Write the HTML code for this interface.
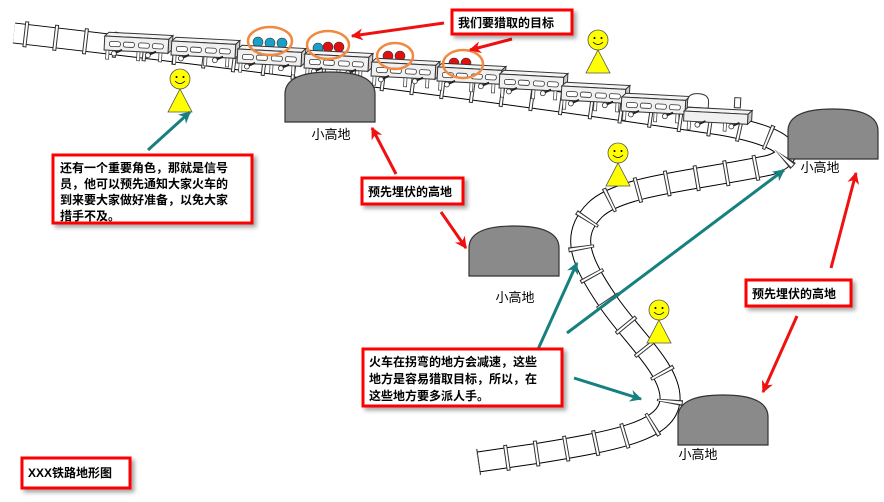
<!DOCTYPE html>
<html><head><meta charset="utf-8"><style>
html,body{margin:0;padding:0;background:#fff;}
svg{display:block;}
.t{font-family:"Liberation Sans","Noto Sans CJK SC",sans-serif;}
.b{font-weight:bold;font-size:12px;fill:#000;}
.h{font-size:13px;fill:#000;}
</style></head><body>
<svg width="884" height="502" viewBox="0 0 884 502" xmlns="http://www.w3.org/2000/svg">
<defs>
<path id="trk" d="M14,33 C250,60 520,95 720,125 C790,137 800,155 770,165 C700,180 620,185 595,210 C570,235 580,260 607,300 C630,335 672,370 670,400 C668,430 620,440 540,453 L478,462"/>
<marker id="rh" viewBox="0 0 10 10" refX="9" refY="5" markerWidth="6" markerHeight="4" orient="auto" markerUnits="strokeWidth"><path d="M0,0 L10,5 L0,10 L3,5 z" fill="#f01010"/></marker>
<marker id="th" viewBox="0 0 10 10" refX="9" refY="5" markerWidth="6" markerHeight="4" orient="auto" markerUnits="strokeWidth"><path d="M0,0 L10,5 L0,10 L3,5 z" fill="#168080"/></marker>
<g id="car">
<path d="M0,4 L4,0 L68,0 L64,4 z" fill="#f4f4f4" stroke="#333" stroke-width="1"/>
<path d="M64,4 L68,0 L68,14 L64,18 z" fill="#ccc" stroke="#333" stroke-width="1"/>
<rect x="0" y="4" width="64" height="14" fill="#f0f0f0" stroke="#333" stroke-width="1"/>
<rect x="5" y="9" width="11" height="5" rx="2" fill="#fff" stroke="#333" stroke-width="0.8"/>
<rect x="19" y="9" width="11" height="5" rx="2" fill="#fff" stroke="#333" stroke-width="0.8"/>
<rect x="34" y="9" width="11" height="5" rx="2" fill="#fff" stroke="#333" stroke-width="0.8"/>
<rect x="48" y="9" width="11" height="5" rx="2" fill="#fff" stroke="#333" stroke-width="0.8"/>
<rect x="2" y="18" width="3" height="9" fill="#fff" stroke="#333" stroke-width="0.7"/>
<rect x="33" y="18" width="3" height="9" fill="#fff" stroke="#333" stroke-width="0.7"/>
<rect x="55" y="18" width="3" height="9" fill="#fff" stroke="#333" stroke-width="0.7"/>
<circle cx="10" cy="21" r="2.5" fill="#fff" stroke="#333" stroke-width="0.8"/>
<circle cx="44" cy="21" r="2.5" fill="#fff" stroke="#333" stroke-width="0.8"/>
<path d="M12,20 L18,17 M46,20 L52,17" stroke="#222" stroke-width="2"/>
</g>
<g id="man">
<circle cx="0" cy="0" r="10" fill="#ffff00" stroke="#555" stroke-width="0.8"/>
<circle cx="-3.5" cy="-2" r="1" fill="#000"/><circle cx="3.5" cy="-2" r="1" fill="#000"/>
<path d="M-5,2 Q0,7 5,2" fill="none" stroke="#000" stroke-width="0.8"/>
<path d="M0,10 L12,33 L-12,33 z" fill="#ffff00" stroke="#555" stroke-width="0.8"/>
</g>
<g id="hill">
<path d="M0,50 L0,22 Q0,0 45,0 Q90,0 90,22 L90,50 z" fill="#8a8a8a" stroke="#333" stroke-width="1.2"/>
</g>
<filter id="sh" x="-10%" y="-10%" width="130%" height="140%"><feDropShadow dx="3" dy="3" stdDeviation="2" flood-color="#000" flood-opacity="0.35"/></filter>
</defs>

<!-- track -->
<use href="#trk" fill="none" stroke="#000" stroke-width="21"/>
<use href="#trk" fill="none" stroke="#fff" stroke-width="19"/>
<use href="#trk" fill="none" stroke="#333" stroke-width="26" stroke-dasharray="4 26" stroke-dashoffset="-10"/>
<use href="#trk" fill="none" stroke="#fff" stroke-width="24" stroke-dasharray="2 28" stroke-dashoffset="-11"/>

<!-- train -->
<use href="#car" transform="translate(105,32) rotate(3)"/>
<use href="#car" transform="translate(172,37) rotate(3)"/>
<circle cx="258" cy="42" r="5" fill="#1aa0c8" stroke="#333" stroke-width="0.6"/>
<circle cx="270" cy="43" r="5" fill="#1aa0c8" stroke="#333" stroke-width="0.6"/>
<circle cx="282" cy="43" r="5" fill="#1aa0c8" stroke="#333" stroke-width="0.6"/>
<use href="#car" transform="translate(238,45) rotate(3)"/>
<circle cx="318" cy="48" r="5" fill="#1aa0c8" stroke="#333" stroke-width="0.6"/>
<circle cx="328" cy="47" r="5" fill="#e01010" stroke="#333" stroke-width="0.6"/>
<circle cx="339" cy="47" r="5" fill="#e01010" stroke="#333" stroke-width="0.6"/>
<use href="#car" transform="translate(305,50) rotate(3)"/>
<circle cx="388" cy="56" r="5" fill="#e01010" stroke="#333" stroke-width="0.6"/>
<circle cx="400" cy="56" r="5" fill="#e01010" stroke="#333" stroke-width="0.6"/>
<use href="#car" transform="translate(372,58) rotate(3)"/>
<circle cx="454" cy="63" r="5" fill="#e01010" stroke="#333" stroke-width="0.6"/>
<circle cx="466" cy="63" r="5" fill="#e01010" stroke="#333" stroke-width="0.6"/>
<use href="#car" transform="translate(438,63) rotate(3)"/>
<use href="#car" transform="translate(500,70) rotate(3)"/>
<use href="#car" transform="translate(562,82) rotate(3)"/>
<use href="#car" transform="translate(622,93) rotate(3)"/>
<g transform="translate(685,93) rotate(3)">
<path d="M3,14 L3,8 Q3,0 13,0 Q24,0 24,8 L24,14 z" fill="#fff" stroke="#333"/>
<rect x="50" y="2" width="6" height="10" fill="#fff" stroke="#333"/>
<path d="M0,18 L4,14 L68,14 L64,18 z" fill="#f4f4f4" stroke="#333"/>
<path d="M64,18 L68,14 L68,24 L64,28 z" fill="#ccc" stroke="#333"/>
<rect x="0" y="18" width="64" height="10" fill="#f0f0f0" stroke="#333"/>
<rect x="4" y="28" width="3" height="8" fill="#fff" stroke="#333" stroke-width="0.7"/>
<rect x="40" y="28" width="3" height="8" fill="#fff" stroke="#333" stroke-width="0.7"/>
<circle cx="14" cy="31" r="2.5" fill="#fff" stroke="#333" stroke-width="0.8"/>
<circle cx="48" cy="31" r="2.5" fill="#fff" stroke="#333" stroke-width="0.8"/>
<path d="M16,30 L22,27 M50,30 L56,27" stroke="#222" stroke-width="2"/>
</g>

<g fill="none" stroke="#f08a40" stroke-width="2.5">
<ellipse cx="270" cy="41" rx="22" ry="14"/>
<ellipse cx="328" cy="45" rx="21" ry="14"/>
<ellipse cx="395" cy="56" rx="18" ry="13"/>
<ellipse cx="463" cy="64" rx="20" ry="14"/>
</g>

<use href="#man" transform="translate(180,79)"/>
<use href="#man" transform="translate(598,40)"/>
<use href="#man" transform="translate(618,153)"/>
<use href="#man" transform="translate(659,310)"/>

<use href="#hill" transform="translate(285,72)"/>
<use href="#hill" transform="translate(469,226)"/>
<use href="#hill" transform="translate(788,109)"/>
<use href="#hill" transform="translate(678,395)"/>
<g class="t h" text-anchor="middle">
<text x="331" y="139">小高地</text>
<text x="515" y="302">小高地</text>
<text x="820" y="172">小高地</text>
<text x="698" y="459">小高地</text>
</g>

<g stroke="#f01010" stroke-width="3" fill="none" marker-end="url(#rh)">
<line x1="444" y1="23" x2="352" y2="36"/>
<line x1="512" y1="39" x2="470" y2="50"/>
<line x1="396" y1="174" x2="372" y2="128"/>
<line x1="441" y1="212" x2="466" y2="248"/>
<line x1="831" y1="268" x2="856" y2="173"/>
<line x1="797" y1="316" x2="763" y2="392"/>
</g>
<g stroke="#168080" stroke-width="3" fill="none" marker-end="url(#th)">
<line x1="148" y1="150" x2="190" y2="112"/>
<line x1="530" y1="367" x2="577" y2="263"/>
<line x1="567" y1="333" x2="784" y2="170"/>
<line x1="574" y1="378" x2="641" y2="399"/>
</g>

<g fill="#fff" stroke="#f00" stroke-width="3" filter="url(#sh)">
<rect x="53" y="155" width="199" height="68"/>
<rect x="362" y="178" width="101" height="26"/>
<rect x="363" y="349" width="199" height="57"/>
<rect x="746" y="280" width="105" height="26"/>
<rect x="22" y="458" width="108" height="30"/>
<rect x="452" y="10" width="120" height="24"/>
</g>
<g class="t b">
<text x="60" y="172">还有一个重要角色，那就是信号</text>
<text x="60" y="188">员，他可以预先通知大家火车的</text>
<text x="60" y="204">到来要大家做好准备，以免大家</text>
<text x="60" y="220">措手不及。</text>
<text x="368" y="196">预先埋伏的高地</text>
<text x="369" y="366">火车在拐弯的地方会减速，这些</text>
<text x="369" y="383">地方是容易猎取目标，所以，在</text>
<text x="369" y="400">这些地方要多派人手。</text>
<text x="752" y="298">预先埋伏的高地</text>
<text x="28" y="477">XXX铁路地形图</text>
<text x="458" y="27">我们要猎取的目标</text>
</g>
</svg>
</body></html>
